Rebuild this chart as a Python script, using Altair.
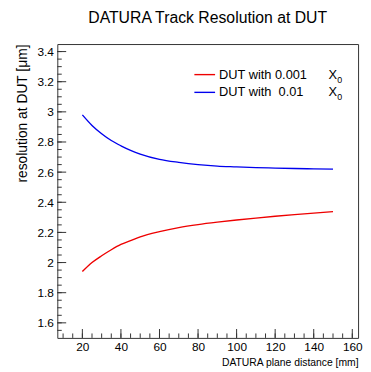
import altair as alt
import pandas as pd

# ---- data ----
distance = [20, 25, 30, 35, 40, 45, 50, 60, 70, 80, 90, 100, 110, 120, 130, 140, 150]
res_thin = [1.94, 2.00, 2.045, 2.085, 2.12, 2.145, 2.17, 2.205, 2.232, 2.252, 2.268, 2.282,
            2.295, 2.307, 2.318, 2.328, 2.338]
res_thick = [2.98, 2.91, 2.855, 2.81, 2.775, 2.745, 2.72, 2.685, 2.665, 2.65, 2.64, 2.635,
             2.63, 2.627, 2.624, 2.622, 2.62]
series_names = ["DUT with 0.001 X0", "DUT with 0.01 X0"]
series_colors = ["#ee0000", "#0000ee"]

y_major = [1.6, 1.8, 2.0, 2.2, 2.4, 2.6, 2.8, 3.0, 3.2, 3.4]
y_minor = [round(1.55 + 0.05 * i, 2) for i in range(38)]
x_major = [20, 40, 60, 80, 100, 120, 140, 160]
x_minor = [10 + 5 * i for i in range(31)]

legend_labels = ["DUT with 0.001", "DUT with\u00a0 0.01"]

W, H = 305, 298
FONT = "Liberation Sans"

df = pd.DataFrame({
    "d": distance * 2,
    "r": res_thin + res_thick,
    "s": [series_names[0]] * len(distance) + [series_names[1]] * len(distance),
})

xs = alt.Scale(domain=[7, 163], nice=False, zero=False)
ys = alt.Scale(domain=[1.5, 3.45], nice=False, zero=False)
cs = alt.Scale(domain=series_names, range=series_colors)

xa = alt.Axis(
    values=x_major, ticks=False, domain=False, grid=False, labelFont=FONT,
    labelFontSize=12, labelColor="#000", labelPadding=4, labelOverlap=False,
    title="DATURA plane distance [mm]", titleFont=FONT, titleFontSize=10.5,
    titleFontWeight="normal", titleColor="#000", titleAnchor="end",
    titlePadding=5)
ya = alt.Axis(
    values=y_major, ticks=False, domain=False, grid=False, labelFont=FONT,
    labelFontSize=12, labelColor="#000", labelPadding=4, labelOverlap=False,
    labelExpr="format(datum.value, '.1~f')",
    title="resolution at DUT [μm]", titleFont=FONT, titleFontSize=14,
    titleFontWeight="normal", titleColor="#000", titleAnchor="end",
    titlePadding=8)

lines = alt.Chart(df).mark_line(strokeWidth=1.4, interpolate="monotone").encode(
    x=alt.X("d:Q", scale=xs, axis=xa, title="DATURA plane distance [mm]"),
    y=alt.Y("r:Q", scale=ys, axis=ya, title="resolution at DUT [μm]"),
    color=alt.Color("s:N", scale=cs, legend=None),
)

ymaj = alt.Chart(pd.DataFrame({"r": y_major})).mark_rule(color="#333", strokeWidth=1).encode(
    y=alt.Y("r:Q", scale=ys, axis=ya, title="resolution at DUT [μm]"),
    x=alt.value(0), x2=alt.value(9))
ymin = alt.Chart(pd.DataFrame({"r": y_minor})).mark_rule(color="#333", strokeWidth=1).encode(
    y=alt.Y("r:Q", scale=ys, axis=ya, title="resolution at DUT [μm]"),
    x=alt.value(0), x2=alt.value(4.5))
xmaj = alt.Chart(pd.DataFrame({"d": x_major})).mark_rule(color="#333", strokeWidth=1).encode(
    x=alt.X("d:Q", scale=xs, axis=xa, title="DATURA plane distance [mm]"),
    y=alt.value(H), y2=alt.value(H - 9))
xmin = alt.Chart(pd.DataFrame({"d": x_minor})).mark_rule(color="#333", strokeWidth=1).encode(
    x=alt.X("d:Q", scale=xs, axis=xa, title="DATURA plane distance [mm]"),
    y=alt.value(H), y2=alt.value(H - 4.5))

layers = [lines, ymaj, ymin, xmaj, xmin]
row_y = [31, 49]
for i, (name, lab) in enumerate(zip(series_names, legend_labels)):
    base = alt.Chart(pd.DataFrame({"s": [name], "lab": [lab]}))
    layers.append(base.mark_rule(strokeWidth=1.4).encode(
        x=alt.value(139), x2=alt.value(160), y=alt.value(row_y[i]),
        color=alt.Color("s:N", scale=cs, legend=None)))
    layers.append(base.mark_text(align="left", baseline="middle", font=FONT, fontSize=13,
                                 color="#000").encode(
        x=alt.value(164), y=alt.value(row_y[i]), text="lab:N"))
    layers.append(base.mark_text(align="left", baseline="middle", font=FONT, fontSize=13,
                                 color="#000", text="X").encode(
        x=alt.value(275), y=alt.value(row_y[i])))
    layers.append(base.mark_text(align="left", baseline="middle", font=FONT, fontSize=9,
                                 color="#000", text="0").encode(
        x=alt.value(284), y=alt.value(row_y[i] + 5)))

chart = alt.layer(*layers).properties(
    width=W, height=H,
    title=alt.TitleParams("DATURA Track Resolution at DUT", font=FONT, fontSize=16,
                          fontWeight="normal", color="#000", anchor="middle", offset=18),
    autosize=alt.AutoSizeParams(type="none"),
    padding={"left": 50, "top": 34, "right": 5, "bottom": 30},
).configure(background="white").configure_view(stroke="#333", strokeWidth=1)

chart.save("out.html", embed_options={"renderer": "svg", "actions": False})
